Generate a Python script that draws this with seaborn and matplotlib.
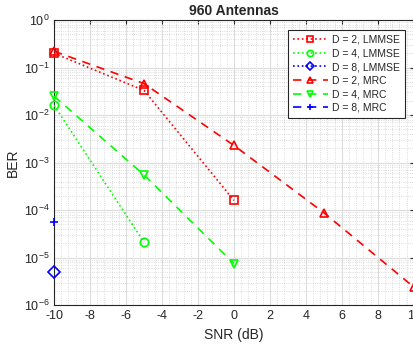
import numpy as np
import pandas as pd
import matplotlib
matplotlib.use("Agg")
import matplotlib.pyplot as plt
import seaborn as sns
from matplotlib.ticker import LogLocator, NullFormatter, MultipleLocator

# SNR points (dB) and BER
snr_d2_lmmse = [-10, -5, 0]
ber_d2_lmmse = [0.20, 0.033, 1.6e-4]
snr_d4_lmmse = [-10, -5]
ber_d4_lmmse = [0.016, 2.1e-5]
snr_d8_lmmse = [-10]
ber_d8_lmmse = [5.0e-6]
snr_d2_mrc = [-10, -5, 0, 5, 10]
ber_d2_mrc = [0.22, 0.046, 2.3e-3, 8.8e-5, 2.4e-6]
snr_d4_mrc = [-10, -5, 0]
ber_d4_mrc = [0.025, 5.5e-4, 7.5e-6]
snr_d8_mrc = [-10]
ber_d8_mrc = [5.7e-5]

labels = ["D = 2, LMMSE", "D = 4, LMMSE", "D = 8, LMMSE",
          "D = 2, MRC", "D = 4, MRC", "D = 8, MRC"]

dash = (0, (5, 4))
series = [
    (snr_d2_lmmse, ber_d2_lmmse, "#ff0000", ":", "s"),
    (snr_d4_lmmse, ber_d4_lmmse, "#00ff00", ":", "o"),
    (snr_d8_lmmse, ber_d8_lmmse, "#0000ff", ":", "D"),
    (snr_d2_mrc, ber_d2_mrc, "#ff0000", dash, "^"),
    (snr_d4_mrc, ber_d4_mrc, "#00ff00", dash, "v"),
    (snr_d8_mrc, ber_d8_mrc, "#0000ff", dash, "+"),
]

sns.set_style("white")
plt.rcParams["font.family"] = ["Liberation Sans", "DejaVu Sans"]
plt.rcParams["axes.unicode_minus"] = False

fig = plt.figure(figsize=(4.13, 3.46), dpi=100)
ax = fig.add_axes([0.131, 0.118, 0.871, 0.824])

for (x, y, c, ls, m), lab in zip(series, labels):
    df = pd.DataFrame({"SNR": x, "BER": y})
    sns.lineplot(data=df, x="SNR", y="BER", ax=ax, color=c, linestyle=ls,
                 linewidth=1.2, marker=m, markersize=6, markerfacecolor="none",
                 markeredgecolor=c, markeredgewidth=1.2, label=lab,
                 clip_on=False, zorder=3)

ax.set_yscale("log")
ax.set_xlim(-10, 10)
ax.set_ylim(1e-6, 1)
ax.set_xticks(np.arange(-10, 11, 2))
ax.yaxis.set_major_locator(LogLocator(base=10, numticks=10))
ax.yaxis.set_minor_locator(LogLocator(base=10, subs=np.arange(2, 10), numticks=10))
ax.yaxis.set_minor_formatter(NullFormatter())
ax.xaxis.set_minor_locator(MultipleLocator(0.4))

ax.grid(True, which="major", color="#dcdcdc", linewidth=0.8)
ax.grid(True, which="minor", color="#d0d0d0", linestyle=":", linewidth=0.6)
ax.set_axisbelow(True)

for s in ax.spines.values():
    s.set_color("#262626")
    s.set_linewidth(0.8)
ax.tick_params(which="both", direction="in", top=True, right=True,
               colors="#262626", labelsize=9)
ax.tick_params(which="minor", length=0)
ax.tick_params(which="major", length=3)

ax.set_xlabel("SNR (dB)", fontsize=10, color="#262626")
ax.set_ylabel("BER", fontsize=10, color="#262626")
ax.yaxis.set_label_coords(-0.094, 0.5)
ax.set_title("960 Antennas", fontsize=10, fontweight="bold", pad=4)

leg = ax.legend(loc="upper right", bbox_to_anchor=(0.975, 0.965), fontsize=7.5,
                frameon=True, fancybox=False, edgecolor="#262626",
                handlelength=3.4, borderpad=0.45, labelspacing=0.35,
                handletextpad=0.4, markerscale=0.75, framealpha=1,
                borderaxespad=0)
leg.get_frame().set_linewidth(0.8)

fig.savefig("out.png", dpi=100)
